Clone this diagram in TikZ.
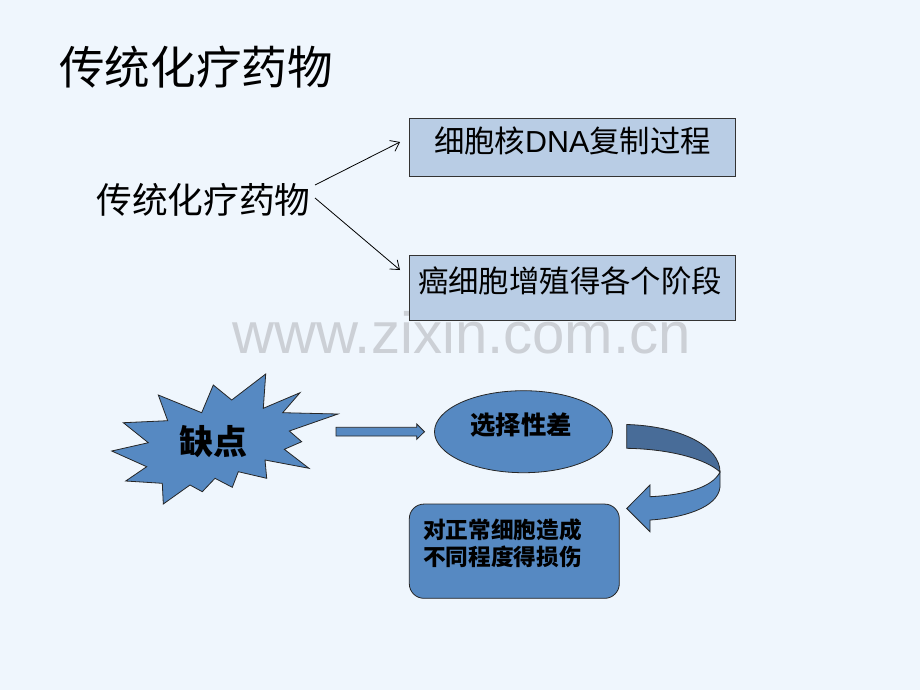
\documentclass[tikz,border=0pt]{standalone}
\usepackage{fontspec}
\setmainfont{Noto Sans CJK SC}
\newfontfamily\wmfont{Liberation Sans}
\usetikzlibrary{arrows.meta,shapes.geometric}
\definecolor{bg}{RGB}{239,246,253}
\definecolor{boxfill}{RGB}{185,205,229}
\definecolor{bluefill}{RGB}{86,137,194}
\definecolor{darkblue}{RGB}{72,108,152}
\definecolor{wmgray}{RGB}{204,208,214}
\begin{document}
\begin{tikzpicture}[x=0.75pt,y=-0.75pt,
  txt/.style={inner sep=0pt,text=black},
  lightbox/.style={draw=black!80,line width=0.6pt,fill=boxfill,inner sep=0pt},
  blueshape/.style={draw=black!85,line width=0.6pt,fill=bluefill},
  thinarrow/.style={draw=black,line width=0.6pt,-{Straight Barb[length=6pt,width=9pt]}}]
\fill[bg] (0,0) rectangle (920,690);
\useasboundingbox (0,0) rectangle (920,690);

% watermark
\node[txt,anchor=base west,text=wmgray,font=\wmfont\fontsize{43.6}{44}\selectfont] (wm) at (232,353) {www.zixin.com.cn};

% title
\node[txt,anchor=west,font=\fontsize{34.2}{36}\selectfont] (title) at (59,67) {传统化疗药物};

% left label
\node[txt,anchor=west,font=\fontsize{26.8}{30}\selectfont] (drug) at (96,200) {传统化疗药物};

% boxes
\node[lightbox,minimum width=244.5pt,minimum height=43.5pt] (b1) at (572,147) {};
\node[txt,font=\fontsize{22.8}{26}\selectfont] (b1t) at (572.5,141) {细胞核{\wmfont DNA}复制过程};
\node[lightbox,minimum width=244.5pt,minimum height=48.75pt] (b2) at (572,287.5) {};
\node[txt,font=\fontsize{22.8}{26}\selectfont] (b2t) at (570,281) {癌细胞增殖得各个阶段};

% connectors
\coordinate (a1s) at (315,185);
\coordinate (a1e) at (400,142);
\coordinate (a2s) at (315,198);
\coordinate (a2e) at (400,270);
\draw[thinarrow] (a1s) -- (a1e);
\draw[thinarrow] (a2s) -- (a2e);

% starburst
\draw[blueshape] (265.7,374) -- (263.3,408.3) -- (300,392.7) -- (282.7,412.7) -- (338,414)
  -- (289.3,431) -- (301.7,441.7) -- (284.3,449.3) -- (309,468.3) -- (265,460)
  -- (266.7,478.3) -- (238.3,471.7) -- (232.3,487.3) -- (215,478.3) -- (202.3,491.7)
  -- (190,485) -- (163.3,504) -- (162.3,483.3) -- (125.7,481) -- (146.7,466.7)
  -- (111.7,451) -- (148.3,442.7) -- (123.3,422.7) -- (167.7,420.7) -- (158.3,395)
  -- (201.7,412.7) -- (213.3,385) -- (231.7,400) -- cycle;
\node[txt,font=\bfseries\fontsize{25.5}{28}\selectfont] (defect) at (213,442) {缺点};

% block arrow
\draw[blueshape] (336,427.3) -- (416.7,427.3) -- (416.7,424) -- (424.5,431.7) -- (416.7,439.3)
  -- (416.7,436) -- (336,436) -- cycle;

% ellipse
\node[blueshape,ellipse,minimum width=133.5pt,minimum height=61.5pt,inner sep=0pt] (sel) at (523.5,431.7) {};
\node[txt,font=\bfseries\fontsize{19}{22}\selectfont] (selt) at (521,425) {选择性差};

% rounded rectangle
\node[blueshape,rounded corners=11pt,minimum width=157.5pt,minimum height=70.7pt,inner sep=0pt] (harm) at (514.3,551.2) {};
\node[txt,anchor=west,align=left,font=\bfseries\fontsize{17}{20}\selectfont] (harmt) at (423,543.5) {对正常细胞造成\\不同程度得损伤};

% curved arrow
\draw[draw=black!85,line width=0.6pt,fill=darkblue] (626.7,424.5) .. controls (680,426) and (720,446) .. (720,472)
  .. controls (706,459) and (670,449) .. (626.7,448.3) -- cycle;
\draw[blueshape] (720,472) -- (720,487) .. controls (718,508) and (682,518) .. (650,520)
  -- (650,531.7) -- (626.7,508.5) -- (650,485) -- (650,496.7)
  .. controls (684,495) and (712,488) .. (720,472) -- cycle;
\end{tikzpicture}
\end{document}
